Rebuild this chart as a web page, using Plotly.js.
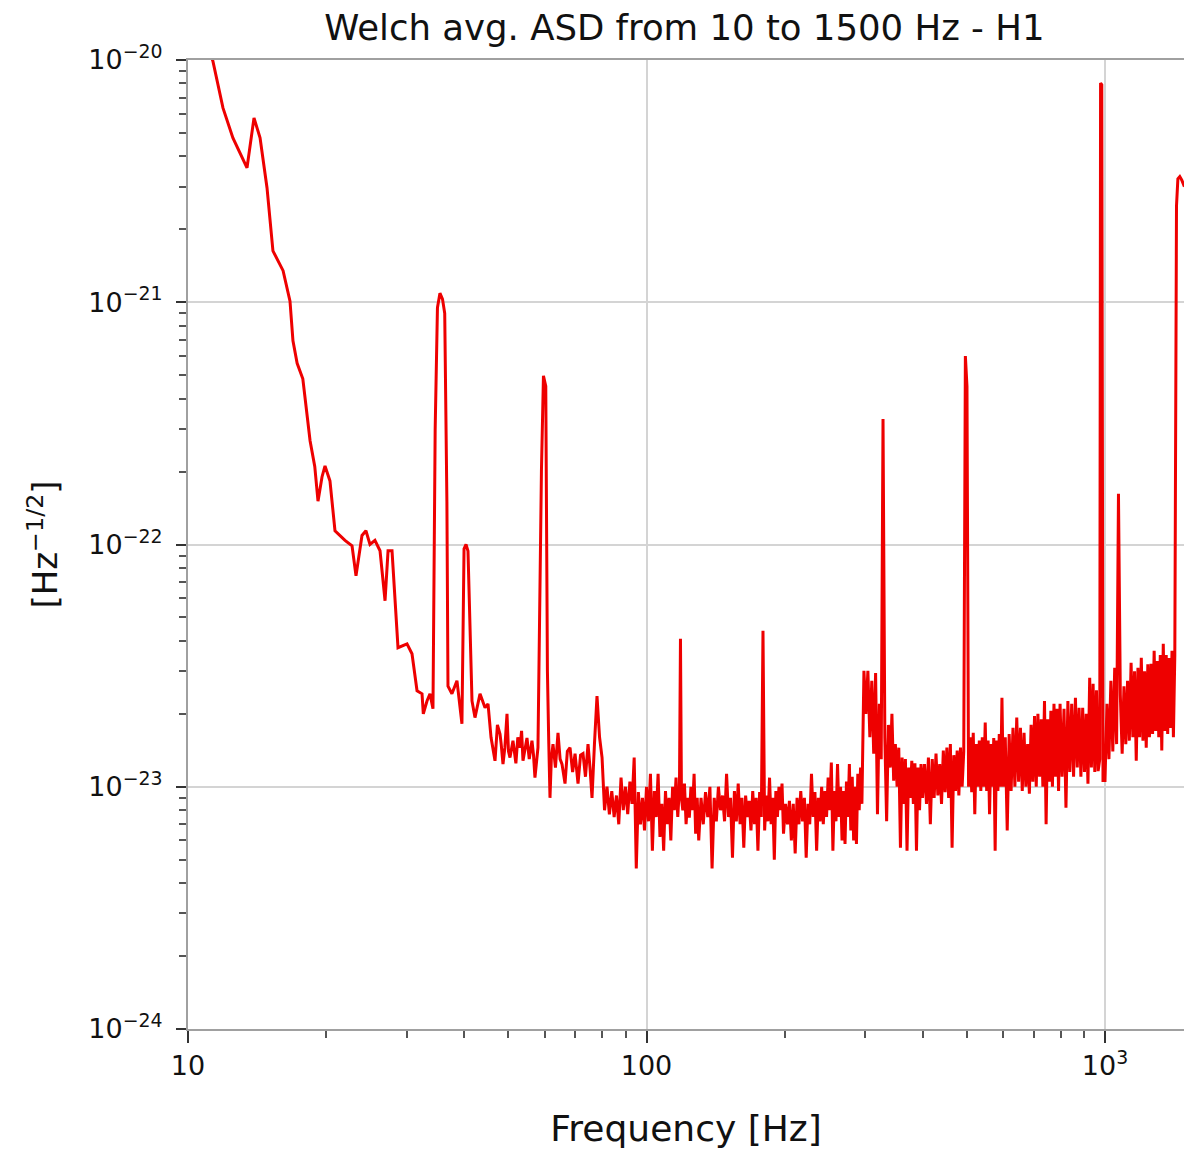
<!DOCTYPE html>
<html>
<head>
<meta charset="utf-8">
<script src="https://cdn.plot.ly/plotly-3.0.1.min.js"></script>
<style>html,body{margin:0;padding:0;background:#fff;}#chart{width:1184px;height:1149px;}</style>
</head>
<body>
<div id="chart"></div>
<script>
// Amplitude spectral density values, in units of 1e-23 Hz^-1/2
const ASD_UNIT = 1e-23;

// 10 - 58 Hz (seismic wall, 36 Hz and 40 Hz lines)
const freqLow = [10, 11.33, 11.92, 12.53, 13.45, 13.93, 14.36, 14.87, 15.32, 16.12, 16.69, 16.94, 17.3, 17.8, 18.46, 18.9, 19.21, 19.6, 19.9, 20.4, 20.92, 22.0, 22.79, 23.25, 23.96, 24.44, 24.94, 25.57, 26.23, 26.9, 27.31, 27.86, 28.71, 30.04, 30.8, 31.59, 32.39, 32.6, 33.21, 33.71, 34.22, 34.6, 35.0, 35.44, 35.9, 36.3, 36.7, 36.9, 37.64, 38.6, 39.58, 40.0, 40.4, 40.8, 41.63, 42.26, 43.34, 44.45, 45.12, 45.8, 46.73, 47.3, 47.92, 48.2, 48.64, 49.1, 49.63, 50.0, 50.38, 51.14, 51.9, 52.4, 52.97, 53.4, 53.78, 54.87, 55.5, 56.26, 56.7, 57.11, 57.98];
const asdLow = [1800, 991, 634, 477, 359, 577, 477, 297, 163, 135, 101, 69.3, 56, 48.3, 26.8, 21, 15.1, 19.0, 21.1, 18.3, 11.4, 10.4, 9.88, 7.43, 10.9, 11.4, 10.0, 10.4, 9.42, 5.86, 9.42, 9.42, 3.75, 3.89, 3.54, 2.49, 2.42, 2.0, 2.26, 2.42, 2.10, 30, 95, 109, 103, 90, 15, 2.6, 2.42, 2.74, 1.82, 9.6, 10.0, 9.4, 2.26, 1.93, 2.42, 2.12, 2.20, 1.6, 1.28, 1.8, 1.65, 1.5, 1.24, 1.45, 2.00, 1.4, 1.32, 1.55, 1.25, 1.6, 1.45, 1.7, 1.28, 1.59, 1.3, 1.55, 1.35, 1.09, 1.45];

// 59 - 79 Hz (60 Hz mains line)
const freqMains = [59.0, 59.6, 60.3, 60.8, 61.2, 61.59, 62.0, 62.53, 63.3, 64.12, 64.8, 65.42, 66.42, 67.2, 68.11, 69.0, 69.85, 70.9, 71.8, 72.7, 73.6, 74.55, 75.3, 76.06, 77.0, 77.99, 79.0];
const asdMains = [20, 49.7, 45, 3, 1.55, 0.90, 1.3, 1.50, 1.2, 1.67, 1.3, 1.24, 1.03, 1.4, 1.45, 1.15, 1.37, 1.03, 1.35, 1.37, 1.1, 1.50, 1.2, 0.90, 1.5, 2.37, 1.6];

// 80 - 129 Hz (120 Hz line)
const freqBand1 = [80, 81, 82, 83, 84, 85, 86, 87, 88, 89, 90, 91, 92, 93, 94, 95, 96, 97, 98, 99, 100, 101, 102, 103, 104, 105, 106, 107, 108, 109, 110, 111, 112, 113, 114, 115, 116, 117, 118, 118.6, 119.2, 120, 121, 122, 123, 124, 125, 126, 127, 128, 129];
const asdBand1 = [1.32, 0.80, 1.0, 0.77, 0.96, 0.75, 0.92, 0.70, 1.09, 0.80, 1.0, 0.77, 1.05, 0.85, 1.32, 0.46, 0.95, 0.70, 0.90, 0.66, 1.0, 0.72, 1.13, 0.545, 0.96, 0.75, 1.13, 0.62, 0.85, 0.545, 0.96, 0.70, 0.90, 0.60, 1.0, 0.80, 1.09, 0.75, 1.0, 4.08, 0.9, 0.80, 1.03, 0.70, 0.90, 0.745, 1.0, 0.80, 1.13, 0.64, 0.90];

// 130 - 199 Hz (180 Hz line)
const freqBand2 = [130, 131.5, 133, 134.5, 136, 137.5, 139, 140.5, 142, 143.5, 145, 146.5, 148, 149.5, 151, 152.5, 154, 155.5, 157, 158.5, 160, 161.5, 163, 164.5, 166, 167.5, 169, 170.5, 172, 173.5, 175, 176.5, 178, 179.5, 181, 182.5, 184, 185.5, 187, 188.5, 190, 191.5, 193, 194.5, 196, 197.5, 199];
const asdBand2 = [0.60, 0.90, 0.70, 0.95, 0.75, 1.0, 0.46, 0.90, 0.72, 1.0, 0.80, 0.92, 0.72, 1.13, 0.75, 0.90, 0.51, 0.96, 0.72, 1.03, 0.70, 0.90, 0.56, 0.92, 0.75, 0.875, 0.66, 0.96, 0.70, 0.90, 0.545, 0.95, 0.75, 4.40, 0.66, 0.92, 0.72, 1.09, 0.70, 0.90, 0.50, 0.96, 0.75, 1.0, 0.80, 1.03, 0.64];

// 201 - 295 Hz
const freqBand3 = [201, 203, 205, 207, 209, 211, 213, 215, 217, 219, 221, 223, 225, 227, 229, 231, 233, 235, 237, 239, 241, 243, 245, 247, 249, 251, 253, 255, 257, 259, 261, 263, 265, 267, 269, 271, 273, 275, 277, 279, 281, 283, 285, 287, 289, 291, 293, 295];
const asdBand3 = [0.85, 0.70, 0.875, 0.60, 0.85, 0.53, 0.90, 0.70, 0.96, 0.72, 0.90, 0.51, 0.85, 0.70, 1.13, 0.75, 0.95, 0.545, 0.90, 0.72, 1.0, 0.70, 0.96, 0.75, 1.09, 0.80, 1.26, 0.545, 0.96, 0.72, 1.24, 0.75, 1.0, 0.60, 0.96, 0.58, 1.05, 0.75, 1.24, 0.66, 1.1, 0.60, 1.0, 0.58, 1.13, 0.80, 1.20, 0.85];

// 298 - 400 Hz (300 Hz hump, 331 Hz line)
const freqBand4 = [298, 301, 304, 307, 310, 313, 316, 319, 322, 325, 328, 331, 334, 337, 340, 343, 346, 349, 352, 355, 358, 361, 364, 367, 370, 373, 376, 379, 382, 385, 388, 391, 394, 397, 400];
const asdBand4 = [3.01, 2.0, 3.01, 1.6, 2.74, 1.37, 2.95, 0.77, 2.2, 1.3, 33, 1.6, 0.72, 1.8, 1.2, 2.0, 1.06, 1.5, 1.0, 1.45, 0.56, 1.32, 0.85, 1.3, 0.545, 1.2, 0.90, 1.28, 0.85, 1.25, 0.545, 1.2, 0.80, 1.24, 0.9];

// 404 - 600 Hz (500 Hz violin mode)
const freqBand5 = [404, 408, 412, 416, 420, 424, 428, 432, 436, 440, 444, 448, 452, 456, 460, 464, 468, 472, 476, 480, 484, 488, 492, 496, 500, 504, 508, 512, 516, 520, 524, 528, 532, 536, 540, 544, 548, 552, 556, 560, 564, 568, 572, 576, 580, 584, 588, 592, 596, 600];
const asdBand5 = [1.24, 0.85, 1.32, 0.70, 1.30, 0.90, 1.37, 0.92, 1.24, 0.85, 1.41, 0.95, 1.45, 0.90, 1.50, 0.56, 1.35, 0.96, 1.41, 0.92, 1.45, 1.0, 1.40, 60, 45, 1.0, 1.60, 0.95, 1.67, 0.77, 1.50, 1.0, 1.55, 0.96, 1.60, 1.0, 1.84, 0.96, 1.55, 0.77, 1.50, 1.0, 1.59, 0.545, 1.55, 0.96, 1.65, 1.0, 2.33, 1.0];

// 606 - 798 Hz
const freqBand6 = [606, 612, 618, 624, 630, 636, 642, 648, 654, 660, 666, 672, 678, 684, 690, 696, 702, 708, 714, 720, 726, 732, 738, 744, 750, 756, 762, 768, 774, 780, 786, 792, 798];
const asdBand6 = [1.60, 0.66, 1.65, 0.96, 1.75, 1.0, 1.93, 1.05, 1.75, 0.96, 1.67, 1.0, 1.50, 0.935, 1.80, 1.05, 1.96, 1.0, 2.00, 1.1, 1.90, 1.0, 2.26, 0.70, 1.90, 1.05, 2.06, 1.0, 2.20, 1.1, 2.10, 0.96, 2.20];

// 806 - 990 Hz (1 kHz violin mode)
const freqBand7 = [806, 814, 822, 830, 838, 846, 854, 862, 870, 878, 886, 894, 902, 910, 918, 926, 934, 942, 950, 958, 966, 974, 978, 984, 990];
const asdBand7 = [1.1, 2.1, 0.82, 2.26, 1.15, 2.20, 1.1, 2.33, 1.2, 2.12, 1.1, 2.12, 1.15, 2.0, 1.03, 2.82, 1.2, 2.66, 1.15, 2.5, 1.16, 1.3, 804, 790, 1.06];

// 1000 - 1490 Hz (1.07 kHz line, 1.5 kHz violin modes)
const freqBand8 = [1000, 1010, 1020, 1030, 1040, 1050, 1060, 1070, 1080, 1090, 1100, 1110, 1120, 1130, 1140, 1150, 1160, 1170, 1180, 1190, 1200, 1210, 1220, 1230, 1240, 1250, 1260, 1270, 1280, 1290, 1300, 1310, 1320, 1330, 1340, 1350, 1360, 1370, 1380, 1390, 1400, 1410, 1420, 1432, 1442, 1456, 1470, 1490];
const asdBand8 = [1.06, 2.2, 1.3, 2.74, 1.4, 3.10, 1.5, 16.2, 2.4, 1.37, 2.6, 1.5, 2.74, 1.55, 3.25, 1.6, 3.0, 1.28, 3.1, 1.6, 3.41, 1.55, 3.0, 1.45, 3.2, 1.6, 3.22, 1.65, 3.64, 1.7, 3.3, 1.6, 3.5, 1.41, 3.89, 1.7, 3.5, 1.65, 3.4, 1.75, 3.64, 1.6, 3.5, 250, 323, 330, 320, 300];

const xTickVals = [10, 100, 1000];
const xTickText = ['10', '100', '10<sup>3</sup>'];
const yTickVals = [1e-24, 1e-23, 1e-22, 1e-21, 1e-20];
const yTickText = ['10<sup>\u221224</sup>', '10<sup>\u221223</sup>', '10<sup>\u221222</sup>', '10<sup>\u221221</sup>', '10<sup>\u221220</sup>'];

const freq = freqLow.concat(freqMains, freqBand1, freqBand2, freqBand3, freqBand4, freqBand5, freqBand6, freqBand7, freqBand8);
const asd = asdLow.concat(asdMains, asdBand1, asdBand2, asdBand3, asdBand4, asdBand5, asdBand6, asdBand7, asdBand8).map(v => v * ASD_UNIT);

const RED = 'rgb(238,0,0)';
const FONT = 'DejaVu Sans, sans-serif';
const axisCommon = {
  type: 'log',
  showline: true, linecolor: '#a0a0a0', linewidth: 2,
  showgrid: true, gridcolor: '#d4d4d4', gridwidth: 2,
  ticks: 'outside', tickwidth: 2, tickcolor: '#333',
  tickmode: 'array',
  tickfont: {family: FONT, size: 27, color: '#111'},
  zeroline: false,
  minor: {ticks: 'outside', ticklen: 7, tickwidth: 2, tickcolor: '#555', showgrid: false, dtick: 'D1'}
};

const traces = [
  {x: freq, y: asd, type: 'scatter', mode: 'lines', line: {color: RED, width: 3, simplify: false}, hoverinfo: 'skip'}
];

const layout = {
  width: 1184, height: 1149,
  margin: {l: 188, r: 0, t: 60, b: 120},
  paper_bgcolor: '#fff', plot_bgcolor: '#fff',
  showlegend: false,
  font: {family: FONT, color: '#111'},
  title: {text: 'Welch avg. ASD from 10 to 1500 Hz - H1', font: {family: FONT, size: 35.5, color: '#111'},
          x: 0.578, xanchor: 'center', y: 0.976, yanchor: 'middle', yref: 'container'},
  xaxis: Object.assign({}, axisCommon, {
    range: [1, Math.log10(1487)], tickvals: xTickVals, ticktext: xTickText, mirror: true, ticklen: 12,
    title: {text: 'Frequency [Hz]', font: {family: FONT, size: 36, color: '#111'}, standoff: 36}
  }),
  yaxis: Object.assign({}, axisCommon, {
    range: [-24, -20], tickvals: yTickVals, ticktext: yTickText, ticklen: 10, ticklabelstandoff: 8,
    title: {text: '[Hz<sup>\u22121/2</sup>]', font: {family: FONT, size: 34, color: '#111'}, standoff: 20}
  })
};

Plotly.newPlot('chart', traces, layout, {displayModeBar: false, staticPlot: true});
</script>
</body>
</html>
